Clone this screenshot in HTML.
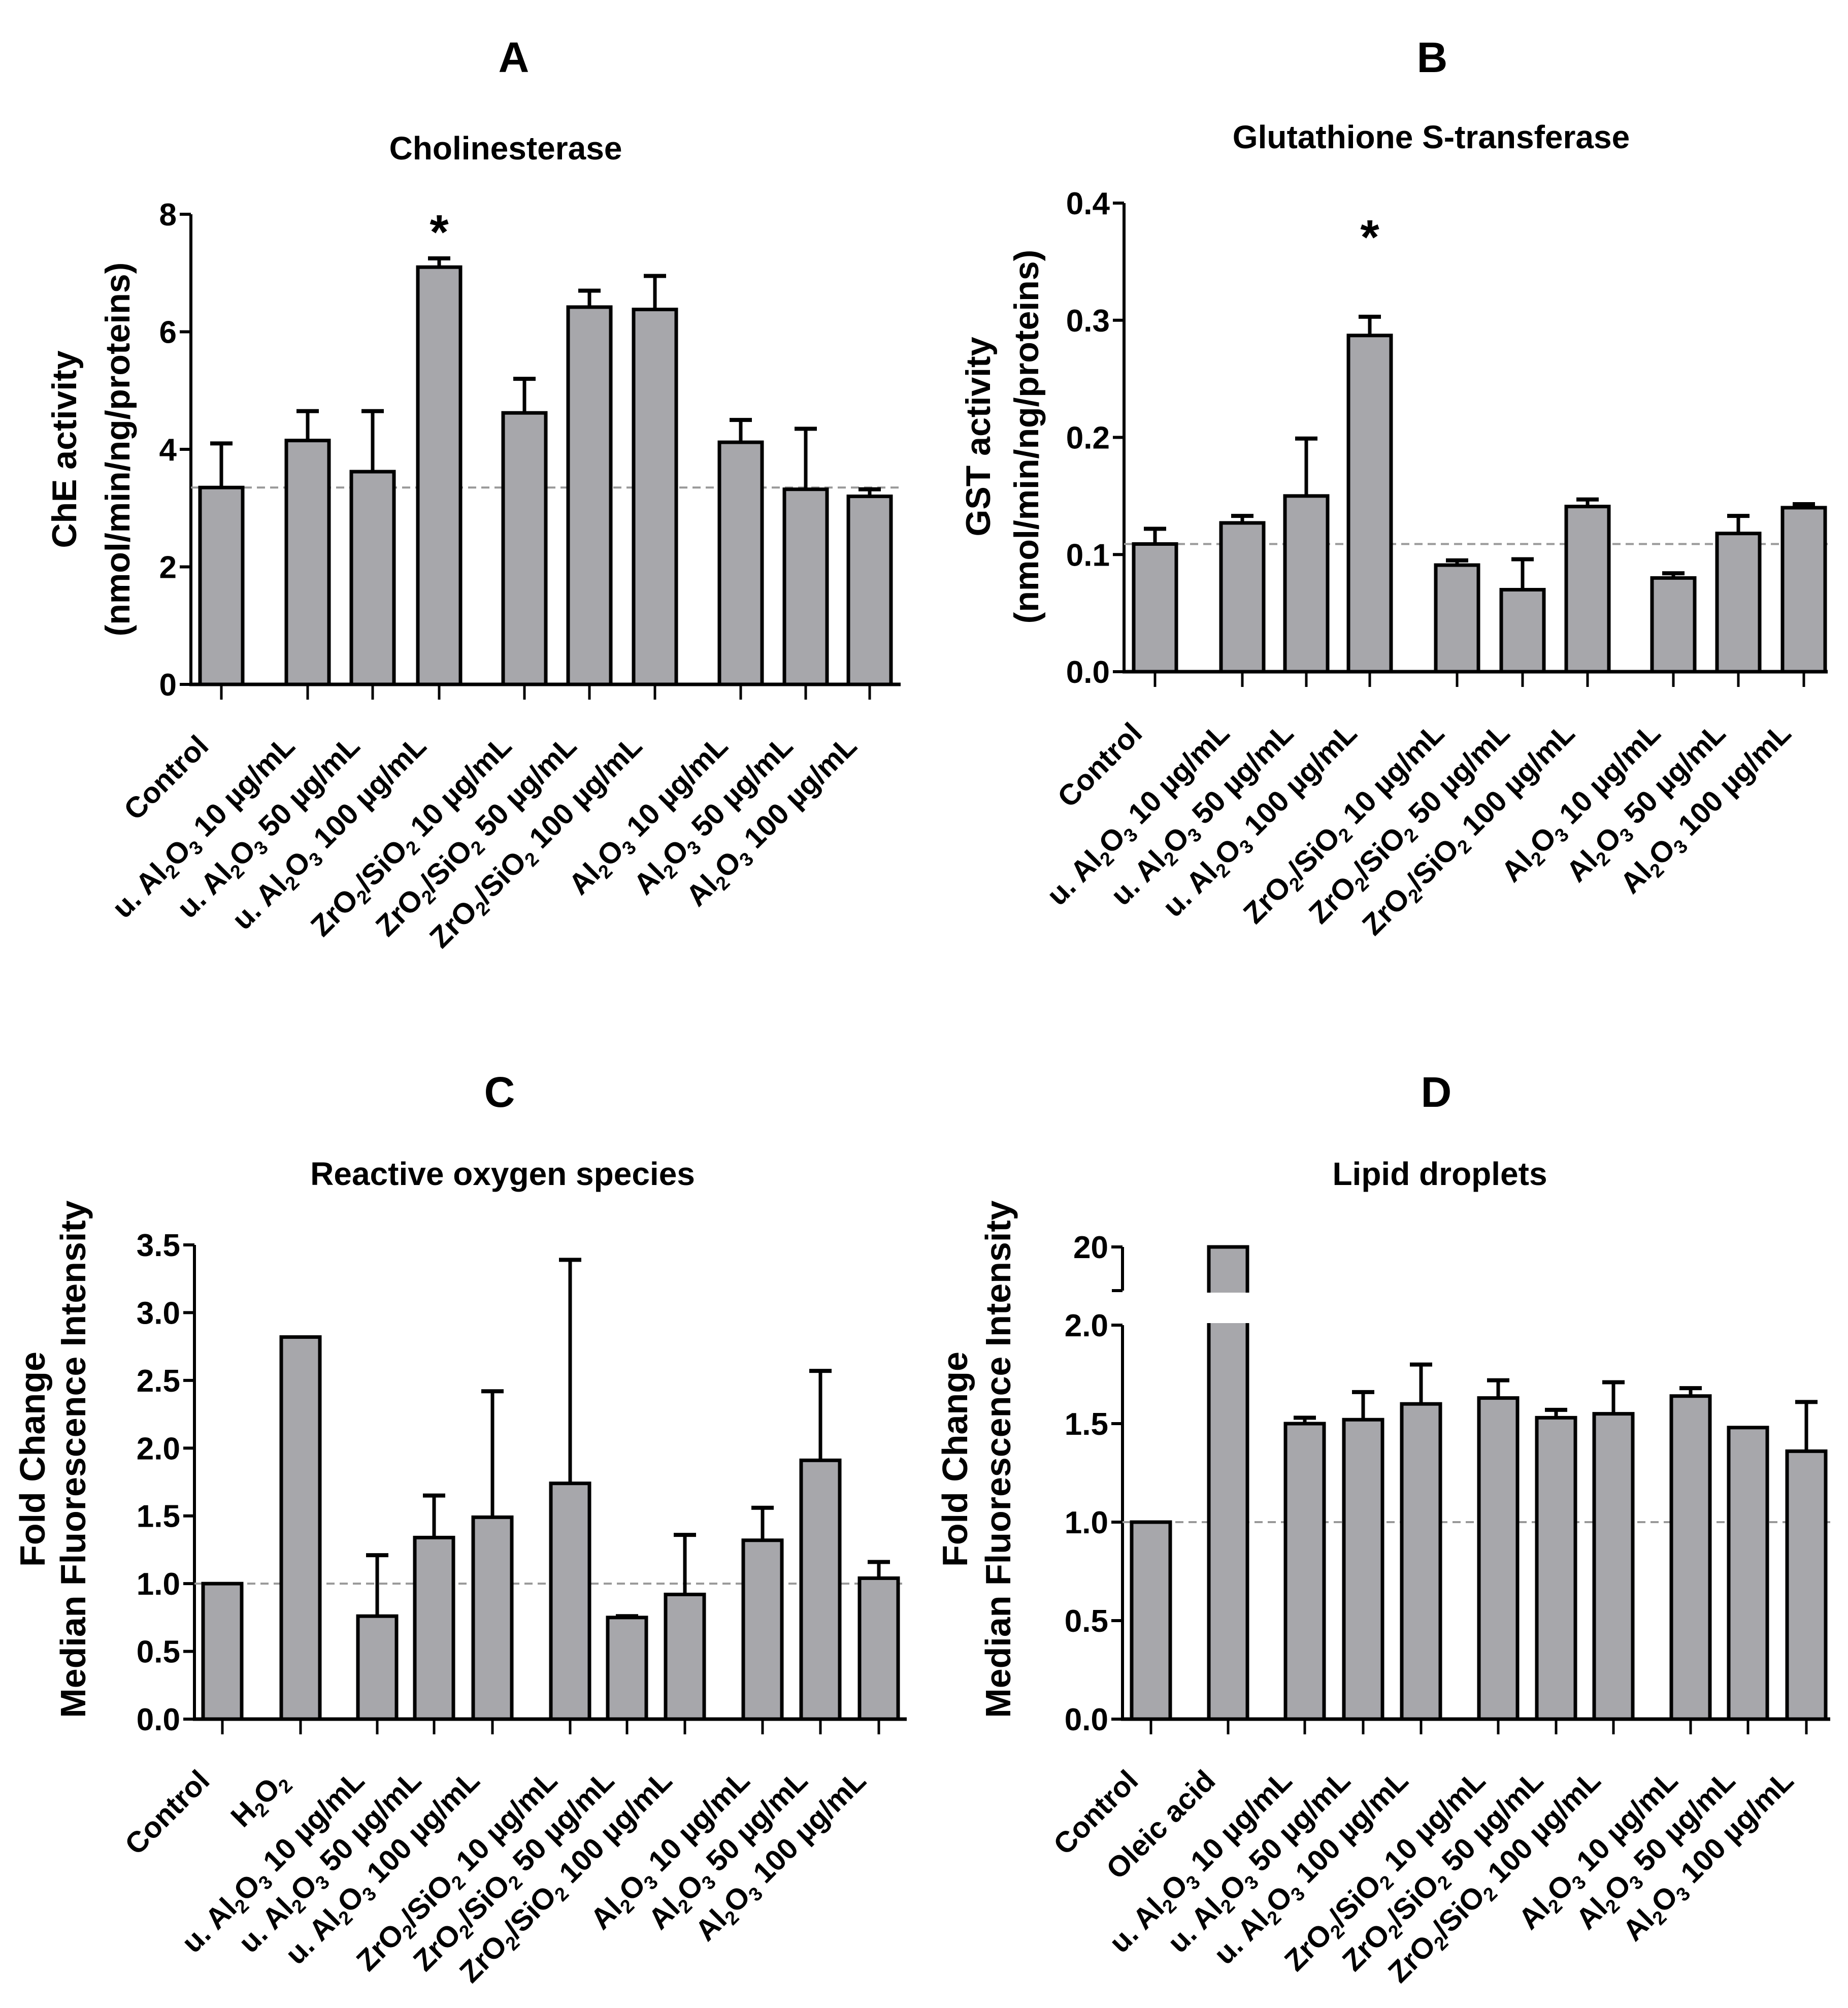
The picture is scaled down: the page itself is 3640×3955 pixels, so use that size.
<!DOCTYPE html>
<html><head><meta charset="utf-8"><style>
html,body{margin:0;padding:0;background:#fff;}
svg{display:block;font-family:"Liberation Sans",sans-serif;}
</style></head><body>
<svg id="fig" width="3640" height="3955" viewBox="0 0 3640 3955" xmlns="http://www.w3.org/2000/svg"></svg>
<script>
// ---- Panel A: Cholinesterase ----
const catsA = ["Control","u. Al|2|O|3| 10 µg/mL","u. Al|2|O|3| 50 µg/mL","u. Al|2|O|3| 100 µg/mL","ZrO|2|/SiO|2| 10 µg/mL","ZrO|2|/SiO|2| 50 µg/mL","ZrO|2|/SiO|2| 100 µg/mL","Al|2|O|3| 10 µg/mL","Al|2|O|3| 50 µg/mL","Al|2|O|3| 100 µg/mL"];
const valsA = [3.35,4.15,3.62,7.1,4.62,6.42,6.38,4.12,3.32,3.2];
const errA  = [4.1,4.65,4.65,7.25,5.2,6.7,6.95,4.5,4.35,3.32];
const ticksA = [0,2,4,6,8];
const sigA = [3];
// ---- Panel B: GST ----
const catsB = catsA;
const valsB = [0.109,0.127,0.150,0.287,0.091,0.070,0.141,0.080,0.118,0.140];
const errB  = [0.122,0.133,0.199,0.303,0.095,0.096,0.147,0.084,0.133,0.143];
const ticksB = ["0.0","0.1","0.2","0.3","0.4"];
const sigB = [3];
// ---- Panel C: ROS ----
const catsC = ["Control","H|2|O|2|","u. Al|2|O|3| 10 µg/mL","u. Al|2|O|3| 50 µg/mL","u. Al|2|O|3| 100 µg/mL","ZrO|2|/SiO|2| 10 µg/mL","ZrO|2|/SiO|2| 50 µg/mL","ZrO|2|/SiO|2| 100 µg/mL","Al|2|O|3| 10 µg/mL","Al|2|O|3| 50 µg/mL","Al|2|O|3| 100 µg/mL"];
const valsC = [1.0,2.82,0.76,1.34,1.49,1.74,0.75,0.92,1.32,1.91,1.04];
const errC  = [null,null,1.21,1.65,2.42,3.39,0.76,1.36,1.56,2.57,1.16];
const ticksC = ["0.0","0.5","1.0","1.5","2.0","2.5","3.0","3.5"];
// ---- Panel D: Lipid droplets ----
const catsD = ["Control","Oleic  acid","u. Al|2|O|3| 10 µg/mL","u. Al|2|O|3| 50 µg/mL","u. Al|2|O|3| 100 µg/mL","ZrO|2|/SiO|2| 10 µg/mL","ZrO|2|/SiO|2| 50 µg/mL","ZrO|2|/SiO|2| 100 µg/mL","Al|2|O|3| 10 µg/mL","Al|2|O|3| 50 µg/mL","Al|2|O|3| 100 µg/mL"];
const valsD = [1.0,20,1.50,1.52,1.60,1.63,1.53,1.55,1.64,1.48,1.36];
const errD  = [null,null,1.53,1.66,1.80,1.72,1.57,1.71,1.68,null,1.61];
const ticksD = ["0.0","0.5","1.0","1.5","2.0"];
const upperTickD = ["20"];

const NS="http://www.w3.org/2000/svg";
const svg=document.getElementById('fig');
function mk(tag,attrs,parent){const e=document.createElementNS(NS,tag);for(const k in attrs)e.setAttribute(k,attrs[k]);(parent||svg).appendChild(e);return e;}
function richText(t,str){
  const parts=str.split('|');
  parts.forEach((p,i)=>{ if(!p)return; const ts=mk('tspan',{},t);
    if(i%2===1){ts.setAttribute('font-size','0.65em');ts.setAttribute('dy','12');}
    else if(i>0){ts.setAttribute('dy','-12');}
    ts.textContent=p;});
}
function panel(o){
  const g=mk('g',{});
  
  
  const t1=mk('text',{x:o.letterX,y:o.letterY,'font-size':84,'font-weight':'bold','text-anchor':'middle'},g);
  
  
  t1.textContent=o.letter;
  const t2=mk('text',{x:o.titleX,y:o.titleY,'font-size':64,'font-weight':'bold','text-anchor':'middle'},g);
  
  
  t2.textContent=o.title;
  o.ylab.forEach((s,i)=>{
    const yl=mk('text',{x:0,y:0,'font-size':o.ylabSize||68,'font-weight':'bold','text-anchor':'middle',transform:`translate(${o.ylabX[i]},${o.ylabY}) rotate(-90)`},g);
    
    
    yl.textContent=s;
  });
  const y=o.y;
  o.ticks.forEach(tk=>{
    const v=parseFloat(tk), py=y(v);
    mk('line',{x1:o.ax-22,x2:o.ax,y1:py,y2:py,stroke:'#000','stroke-width':6},g);
    const tl=mk('text',{x:o.ax-28,y:py+22,'font-size':62,'font-weight':'bold','text-anchor':'end'},g);
    
    
    tl.textContent=tk;
  });
  mk('line',{x1:o.ax,x2:o.ax,y1:o.y0,y2:o.axisTop,stroke:'#000','stroke-width':6},g);
  mk('line',{x1:o.ax,x2:o.axEnd,y1:y(o.ref),y2:y(o.ref),stroke:'#999','stroke-width':4,'stroke-dasharray':'16 10'},g);
  o.vals.forEach((v,i)=>{
    const cx=o.xs[i], top=o.barTop?o.barTop(v):y(v);
    const b=mk('rect',{x:cx-o.bw/2,y:top,width:o.bw,height:o.y0-top,fill:'#a7a7ab',stroke:'#000','stroke-width':7},g);
    
    
    if(o.err[i]!=null){
      const ey=y(o.err[i]);
      mk('line',{x1:cx,x2:cx,y1:top,y2:ey,stroke:'#000','stroke-width':7},g);
      mk('line',{x1:cx-22,x2:cx+22,y1:ey,y2:ey,stroke:'#000','stroke-width':8},g);
    }
    mk('line',{x1:cx,x2:cx,y1:o.y0,y2:o.y0+30,stroke:'#000','stroke-width':5},g);
    const xl=mk('text',{x:0,y:0,'font-size':58,'font-weight':'bold','text-anchor':'end',transform:`translate(${cx-22},${o.y0+125}) rotate(-45)`},g);
    
    
    richText(xl,o.cats[i]);
  });
  (o.sig||[]).forEach(i=>{
    const s=mk('text',{x:o.xs[i],y:o.sigY,'font-size':96,'font-weight':'bold','text-anchor':'middle'},g);
    
    
    s.textContent='*';
  });
  mk('line',{x1:o.ax-3,x2:o.axEnd,y1:o.y0,y2:o.y0,stroke:'#000','stroke-width':7},g);
  return g;
}
function lin(v0,p0,v1,p1){return v=>p0+(v-v0)*(p1-p0)/(v1-v0);}

panel({name:'panel-a-cholinesterase',letter:'A',letterX:1012,letterY:142,title:'Cholinesterase',titleX:996,titleY:314,
  ylab:['ChE activity','(nmol/min/ng/proteins)'],ylabX:[150,255],ylabY:885,
  ax:376,axEnd:1774,y0:1348,axisTop:422,y:lin(0,1348,8,422),ticks:ticksA.map(String),ref:valsA[0],
  vals:valsA,err:errA,cats:catsA,xs:[436,606,734,865,1033,1161,1290,1459,1587,1713],bw:84,sig:sigA,sigY:490});
panel({name:'panel-b-gst',letter:'B',letterX:2821,letterY:142,title:'Glutathione S-transferase',titleX:2819,titleY:292,
  ylab:['GST activity','(nmol/min/ng/proteins)'],ylabX:[1950,2045],ylabY:860,
  ax:2214,axEnd:3600,y0:1323,axisTop:400,y:lin(0,1323,0.4,400),ticks:ticksB,ref:valsB[0],
  vals:valsB,err:errB,cats:catsB,xs:[2275,2447,2573,2698,2870,2999,3127,3296,3424,3553],bw:84,sig:sigB,sigY:500});
panel({name:'panel-c-ros',letter:'C',letterX:984,letterY:2180,title:'Reactive oxygen species',titleX:990,titleY:2334,
  ylab:['Fold Change','Median Fluorescence Intensity'],ylabX:[88,168],ylabY:2874,ylabSize:70,
  ax:383,axEnd:1786,y0:3386,axisTop:2452,y:lin(0,3386,3.5,2452),ticks:ticksC,ref:1,
  vals:valsC,err:errC,cats:catsC,xs:[438,592,743,855,970,1123,1235,1349,1502,1616,1731],bw:76});
const yD=lin(0,3386,2,2610), yDup=lin(15,2542,20,2456);
const gD=panel({name:'panel-d-lipid-droplets',letter:'D',letterX:2829,letterY:2180,title:'Lipid droplets',titleX:2836,titleY:2334,
  ylab:['Fold Change','Median Fluorescence Intensity'],ylabX:[1905,1990],ylabY:2874,ylabSize:70,
  ax:2211,axEnd:3605,y0:3386,axisTop:2610,y:yD,barTop:v=>v>2?yDup(v):yD(v),ticks:ticksD,ref:1,
  vals:valsD,err:errD,cats:catsD,xs:[2267,2419,2570,2685,2799,2951,3065,3178,3330,3443,3558],bw:76});
mk('rect',{x:2419-50,y:yDup(15)+4,width:100,height:yD(2)-yDup(15)-8,fill:'#fff'},gD);
mk('line',{x1:2211,x2:2211,y1:yDup(15),y2:yDup(20),stroke:'#000','stroke-width':6},gD);
mk('line',{x1:2190,x2:2211,y1:yDup(15),y2:yDup(15),stroke:'#000','stroke-width':6},gD);
upperTickD.forEach(tk=>{const py=yDup(parseFloat(tk));
  mk('line',{x1:2189,x2:2211,y1:py,y2:py,stroke:'#000','stroke-width':6},gD);
  const tl=mk('text',{x:2183,y:py+22,'font-size':62,'font-weight':'bold','text-anchor':'end'},gD);
  
  
  tl.textContent=tk;});
</script>
</body></html>
